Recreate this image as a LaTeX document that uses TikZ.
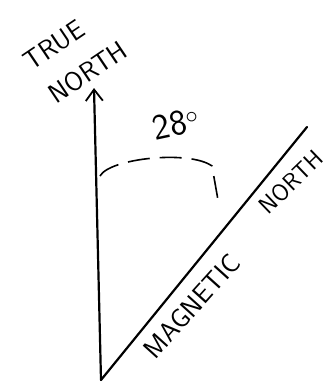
\documentclass[tikz,border=0pt]{standalone}
\usepackage{tikz}
\usetikzlibrary{arrows.meta, positioning}

\begin{document}
\begin{tikzpicture}[
  x=1pt, y=-1pt,
  lbl/.style={font=\sffamily\fontsize{27}{29}\selectfont, inner sep=0pt},
  ln/.style={line width=2.2pt, line cap=round},
  ar/.style={ln, -{Straight Barb[length=4mm, width=6mm, line width=1.8pt]}},
  arc/.style={line width=1.6pt, dash pattern=on 22pt off 10pt},
]
\useasboundingbox (0,0) rectangle (327,389);

\coordinate (o) at (101,380);
\coordinate (tn) at (94,88);
\coordinate (mn) at (307,127);

\draw[ar] (o) -- (tn);
\draw[ln] (o) -- (mn);

% angle between the two norths
\coordinate (a0) at (100,176);
\coordinate (a1) at (218,200);
\draw[arc] (a0) .. controls (110,158) and (190,150) .. (212,166) -- (a1);

\node[lbl, rotate=34] (true) at (54,45) {TRUE};
\node[lbl, rotate=34] (tnorth) at (88,72) {NORTH};
\node[lbl, font=\sffamily\fontsize{36}{38}\selectfont, rotate=12] (deg) at (176,124) {28$^{\circ}$};
\node[lbl, rotate=48] (mag) at (192,306) {MAGNETIC};
\node[lbl, font=\sffamily\fontsize{24}{26}\selectfont, rotate=44] (mnorth) at (291,182) {NORTH};
\end{tikzpicture}
\end{document}
